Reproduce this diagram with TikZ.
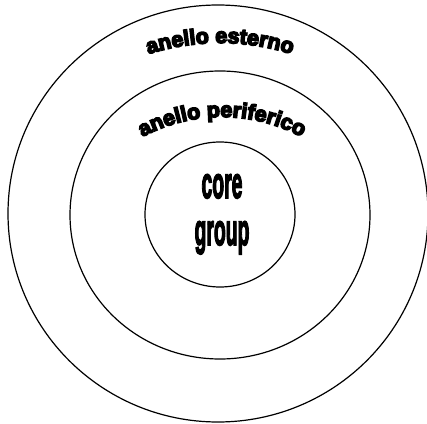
\documentclass[tikz,border=0pt]{standalone}
\usepackage{fontspec}
\newfontfamily\lsans{Liberation Sans}[BoldFeatures={FakeBold=7}]
\newfontfamily\lsanscore{Liberation Sans}[BoldFeatures={FakeBold=4}]
\usetikzlibrary{shapes.geometric,decorations.text}
\newcommand{\ringfont}{\lsans\bfseries\fontsize{21.5}{21.5}\selectfont}
\begin{document}
\begin{tikzpicture}[x=1pt,y=1pt,
  ring/.style={draw=black, line width=1.2pt, ellipse, inner sep=0pt, outer sep=0pt},
  arclabel/.style={font=\ringfont, decorate, decoration={text along path, text align=center, text={#1}}}]
\useasboundingbox (0,0) rectangle (427,423);
\node[ring, minimum width=420pt, minimum height=417pt] (outer) at (218,209.5) {};
\node[ring, minimum width=300pt, minimum height=288pt] (middle) at (220,208) {};
\node[ring, minimum width=150pt, minimum height=145pt] (core) at (220,208.5) {};
\coordinate (ca) at (220,144);
\coordinate (cb) at (222,138);
\path[arclabel={|\ringfont|anello esterno}] ([shift={(120:236)}]ca) arc[start angle=120, end angle=60, radius=236];
\path[arclabel={|\ringfont|anello periferico}] ([shift={(130:168)}]cb) arc[start angle=130, end angle=50, radius=168];
\node[anchor=base, inner sep=0pt, font=\lsanscore\bfseries\fontsize{44}{44}\selectfont] (t1) at (222,225) {\scalebox{0.44}[1]{core}};
\node[anchor=base, inner sep=0pt, font=\lsanscore\bfseries\fontsize{44}{44}\selectfont] (t2) at (222,178) {\scalebox{0.44}[1]{group}};
\end{tikzpicture}
\end{document}
